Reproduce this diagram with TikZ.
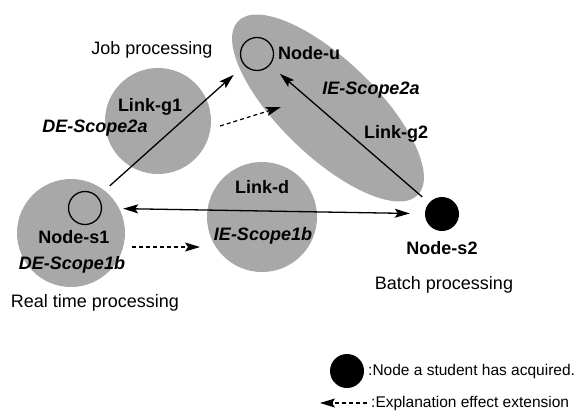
\documentclass[tikz,border=0pt]{standalone}
\usepackage{fontspec}
\setmainfont{Liberation Sans}
\usetikzlibrary{arrows.meta,shapes.geometric}
\definecolor{scopegray}{gray}{0.66}
\tikzset{
  scopefill/.style={fill=scopegray, draw=none, inner sep=0pt},
  opennode/.style={circle, draw=black, line width=1.3pt, minimum size=33pt, inner sep=0pt},
  filnode/.style={circle, fill=black, minimum size=34pt, inner sep=0pt},
  lbl/.style={font=\fontsize{18}{20}\selectfont, inner sep=0pt},
  blbl/.style={font=\fontsize{18}{20}\selectfont\bfseries, inner sep=0pt},
  ilbl/.style={font=\fontsize{18}{20}\selectfont\bfseries\itshape, inner sep=0pt},
  leglbl/.style={font=\fontsize{15.5}{18}\selectfont, inner sep=0pt, anchor=west},
  link/.style={line width=1.3pt, -{Stealth[length=15pt,width=9pt,inset=3pt]}},
  dlink/.style={line width=1.3pt, {Stealth[length=15pt,width=9pt,inset=3pt]}-{Stealth[length=15pt,width=9pt,inset=3pt]}},
  effect/.style={line width=1.2pt, dash pattern=on 4pt off 3pt, -{Stealth[length=15pt,width=9pt,inset=3pt]}}
}
\begin{document}
\begin{tikzpicture}[x=1pt,y=-1pt]
\useasboundingbox (0,0) rectangle (583,418);
% scope regions
\node[scopefill, circle, minimum size=108pt] (scs1) at (71,233) {};
\node[scopefill, circle, minimum size=106pt] (scg1) at (158,121) {};
\node[scopefill, circle, minimum size=110pt] (scd) at (262,217) {};
\node[scopefill, ellipse, minimum width=250pt, minimum height=96pt, rotate=-44] (scu) at (328,108) {};
% nodes
\node[opennode] (s1) at (85,208) {};
\node[opennode] (u) at (257,54) {};
\node[filnode] (s2) at (442,214) {};
% labels
\node[lbl] (job) at (152,50) {Job processing};
\node[blbl] (lg1) at (150,107) {Link-g1};
\node[ilbl] (de2a) at (95,128) {DE-Scope2a};
\node[blbl] (nu) at (309,53) {Node-u};
\node[ilbl] (ie2a) at (371,90) {IE-Scope2a};
\node[blbl] (lg2) at (396,134) {Link-g2};
\node[blbl] (ld) at (262,187) {Link-d};
\node[ilbl] (ie1b) at (263,236) {IE-Scope1b};
\node[blbl] (ns1) at (74,237) {Node-s1};
\node[ilbl] (de1b) at (72,265) {DE-Scope1b};
\node[lbl] (rtp) at (95,303) {Real time processing};
\node[blbl] (ns2) at (442,248) {Node-s2};
\node[lbl] (bp) at (444,285) {Batch processing};
% connectors
\draw[link, shorten <=16pt, shorten >=14pt] (s1) -- (u);
\draw[link, shorten <=9pt, shorten >=13pt] (s2) -- (u);
\draw[dlink, shorten <=21pt, shorten >=15pt] (s1) -- (s2);
\coordinate (e1a) at (132,247);
\coordinate (e1b) at (200,247);
\coordinate (e2a) at (220,126);
\coordinate (e2b) at (281,107);
\draw[effect] (e1a) -- (e1b);
\draw[effect] (e2a) -- (e2b);
% legend
\node[filnode] (legnode) at (347,371) {};
\node[leglbl] (legt1) at (368,371) {:Node a student has acquired.};
\coordinate (la) at (367,403);
\coordinate (lb) at (320,403);
\draw[effect] (la) -- (lb);
\node[leglbl] (legt2) at (371,403) {:Explanation effect extension};
\end{tikzpicture}
\end{document}
